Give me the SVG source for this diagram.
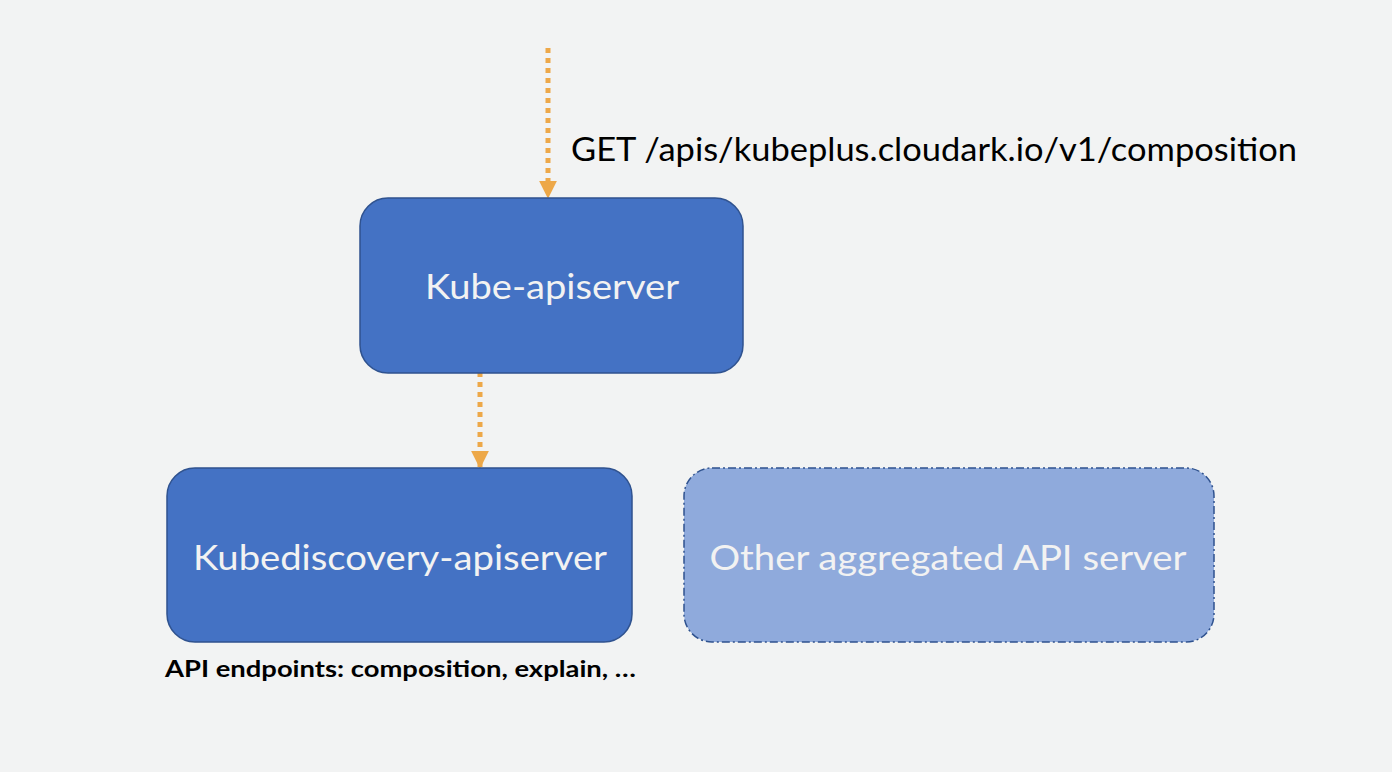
<svg xmlns="http://www.w3.org/2000/svg" width="1392" height="772" viewBox="0 0 1392 772">
<defs>
<style>
.node{fill:#4472C4;stroke:#2F528F;stroke-width:1.5}
.ghost{fill:#8FAADC;stroke:#2F528F;stroke-width:1.5;stroke-dasharray:8 3 2 3}
.lbl{font-family:Lato,"Open Sans","Liberation Sans",sans-serif;font-size:35px;fill:#F2F2F2;text-anchor:middle}
.conn{stroke:#EDA849;stroke-width:5;stroke-dasharray:5 5;fill:none}
</style>
<marker id="ah" viewBox="0 0 10 10" refX="9" refY="5" markerWidth="3.6" markerHeight="3.6" orient="auto" markerUnits="strokeWidth">
<path d="M0,0 L10,5 L0,10 z" fill="#EDA849"/>
</marker>
</defs>
<rect width="1392" height="772" fill="#F2F3F3"/>
<g id="connectors">
<line class="conn" x1="548" y1="48" x2="548" y2="197" marker-end="url(#ah)"/>
<line class="conn" x1="480" y1="372" x2="480" y2="467" marker-end="url(#ah)"/>
</g>
<text x="571" y="161" font-family="Lato,'Open Sans','Liberation Sans',sans-serif" font-size="32" fill="#000" textLength="726" lengthAdjust="spacingAndGlyphs">GET /apis/kubeplus.cloudark.io/v1/composition</text>
<g id="kube-apiserver">
<rect class="node" x="360" y="198" width="383" height="175" rx="28"/>
<text class="lbl" x="552" y="299" textLength="254" lengthAdjust="spacingAndGlyphs">Kube-apiserver</text>
</g>
<g id="kubediscovery-apiserver">
<rect class="node" x="167" y="468" width="465" height="174" rx="28"/>
<text class="lbl" x="400" y="570" textLength="414" lengthAdjust="spacingAndGlyphs">Kubediscovery-apiserver</text>
<text x="165" y="677" font-family="Lato,'Open Sans','Liberation Sans',sans-serif" font-weight="bold" font-size="23" fill="#000" textLength="471" lengthAdjust="spacingAndGlyphs">API endpoints: composition, explain, …</text>
</g>
<g id="other-aggregated-api-server">
<rect class="ghost" x="684" y="468" width="530" height="174" rx="28"/>
<text class="lbl" x="948" y="570" textLength="477" lengthAdjust="spacingAndGlyphs">Other aggregated API server</text>
</g>
</svg>
